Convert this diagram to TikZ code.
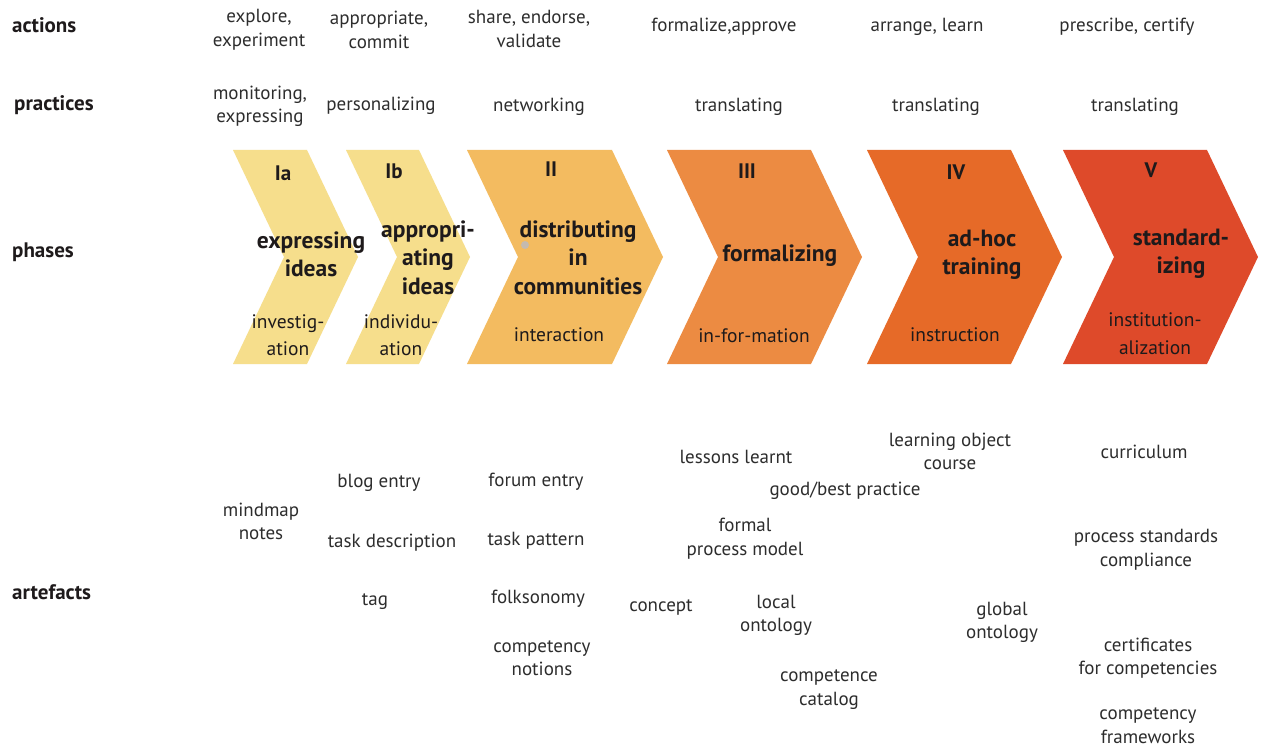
\documentclass[tikz,border=0pt]{standalone}
\usepackage{fontspec}
\setmainfont{PT Sans}
\definecolor{pale}{RGB}{246,222,140}
\definecolor{amber}{RGB}{243,187,96}
\definecolor{tangerine}{RGB}{236,139,66}
\definecolor{burnt}{RGB}{230,106,40}
\definecolor{vermil}{RGB}{222,74,42}
\definecolor{ink}{RGB}{30,26,27}
\definecolor{txtgray}{RGB}{45,45,45}
\definecolor{dotgray}{RGB}{196,186,176}
% chevron: left edge, body right edge, fill colour
\newcommand\chevronshape[3]{%
  \fill[#3] (#1,150) -- (#2,150) -- (#2+51,257) -- (#2,364) -- (#1,364) -- (#1+51,257) -- cycle;}
\begin{document}
\begin{tikzpicture}[x=1pt,y=-1pt,
  every node/.style={yshift=-1.5pt},
  rowlabel/.style={font=\fontsize{21}{25}\selectfont\bfseries, text=ink, anchor=west, inner sep=0},
  txt/.style={font=\fontsize{19}{23.5}\selectfont, text=txtgray, align=center, inner sep=0},
  phase/.style={font=\fontsize{23.5}{28.5}\selectfont\bfseries, text=ink, align=center, inner sep=0},
  numeral/.style={font=\fontsize{21}{25}\selectfont\bfseries, text=ink, inner sep=0},
  sub/.style={font=\fontsize{19.5}{27.5}\selectfont, text=ink, align=center, inner sep=0}]
\useasboundingbox (0,0) rectangle (1262,749);
\fill[white] (0,0) rectangle (1262,749);

% row labels
\node[rowlabel] (lactions)   at (12,24)  {actions};
\node[rowlabel] (lpractices) at (14,104) {practices};
\node[rowlabel] (lphases)    at (12,251) {phases};
\node[rowlabel] (lartefacts) at (12,591) {artefacts};

% actions
\node[txt] (a1) at (259,28.5) {explore,\\experiment};
\node[txt] (a2) at (379,28.5) {appropriate,\\commit};
\node[txt] (a3) at (529,27.5) {share, endorse,\\validate};
\node[txt] (a4) at (724,25) {formalize,approve};
\node[txt] (a5) at (927,25) {arrange, learn};
\node[txt] (a6) at (1127,25) {prescribe, certify};

% practices
\node[txt] (p1) at (260,105) {monitoring,\\expressing};
\node[txt] (p2) at (381,104) {personalizing};
\node[txt] (p3) at (539,105) {networking};
\node[txt] (p4) at (739,105) {translating};
\node[txt] (p5) at (936,105) {translating};
\node[txt] (p6) at (1135,105) {translating};

% phase chevrons
\chevronshape{233}{307}{pale}
\chevronshape{346}{419}{pale}
\chevronshape{467}{612}{amber}
\chevronshape{667}{811}{tangerine}
\chevronshape{867}{1011}{burnt}
\chevronshape{1063}{1207}{vermil}
\fill[dotgray] (525,245) circle (4);

% phase numerals
\node[numeral] (n1) at (283,172) {Ia};
\node[numeral] (n2) at (394,170) {Ib};
\node[numeral] (n3) at (551,168) {II};
\node[numeral] (n4) at (747,170) {III};
\node[numeral] (n5) at (956,171) {IV};
\node[numeral] (n6) at (1151,169) {V};

% phase names
\node[phase] (f1) at (311,253) {expressing\\ideas};
\node[phase] (f2) at (428,256) {appropri-\\ating\\ideas};
\node[phase] (f3) at (578,256) {distributing\\in\\communities};
\node[phase] (f4) at (780,254) {formalizing};
\node[phase] (f5) at (982,253.5) {ad-hoc\\training};
\node[phase] (f6) at (1181,252.5) {standard-\\izing};

% phase modes
\node[sub] (m1) at (288,333.5) {investig-\\ation};
\node[sub] (m2) at (401,333.5) {individu-\\ation};
\node[sub] (m3) at (559,333) {interaction};
\node[sub] (m4) at (754,334) {in-for-mation};
\node[sub] (m5) at (955,333) {instruction};
\node[sub] (m6) at (1155,332) {institution-\\alization};

% artefacts
\node[txt] (r1)  at (261,520) {mindmap\\notes};
\node[txt] (r2)  at (379,481) {blog entry};
\node[txt] (r3)  at (392,541) {task description};
\node[txt] (r4)  at (375,600) {tag};
\node[txt] (r5)  at (536,480) {forum entry};
\node[txt] (r6)  at (536,539) {task pattern};
\node[txt] (r7)  at (538,597) {folksonomy};
\node[txt] (r8)  at (542,656.5) {competency\\notions};
\node[txt] (r9)  at (736,455) {lessons learnt};
\node[txt] (r10) at (950,450) {learning object\\course};
\node[txt] (r11) at (845,489) {good/best practice};
\node[txt] (r12) at (745,537) {formal\\process model};
\node[txt] (r13) at (661,606) {concept};
\node[txt] (r14) at (776,614) {local\\ontology};
\node[txt] (r15) at (1002,621) {global\\ontology};
\node[txt] (r16) at (829,688) {competence\\catalog};
\node[txt] (r17) at (1144,450) {curriculum};
\node[txt] (r18) at (1146,548) {process standards\\compliance};
\node[txt] (r19) at (1148,656.5) {certificates\\for competencies};
\node[txt] (r20) at (1148,724) {competency\\frameworks};
\end{tikzpicture}
\end{document}
